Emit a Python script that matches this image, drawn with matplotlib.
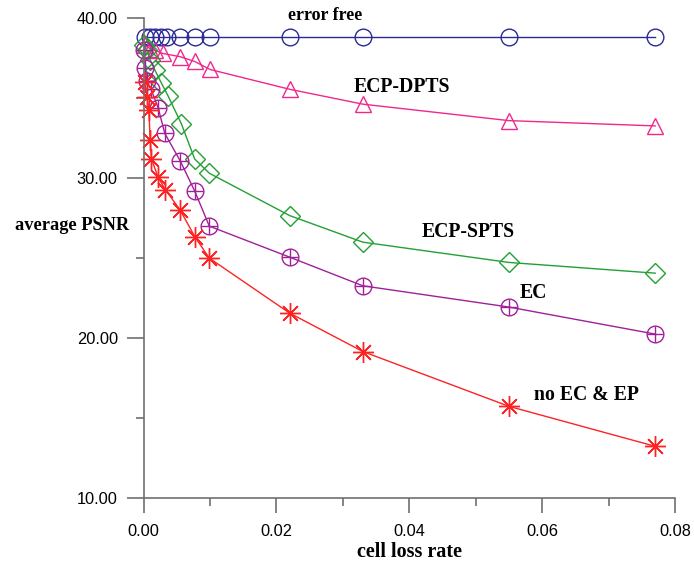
import numpy as np
import matplotlib
matplotlib.use("Agg")
import matplotlib.pyplot as plt
from matplotlib.ticker import MultipleLocator, FormatStrFormatter

# cell loss rate / average PSNR
x_free = [0.0002, 0.001, 0.0017, 0.0026, 0.0035, 0.0055, 0.0077, 0.01, 0.022, 0.033, 0.055, 0.077]
y_free = [38.8, 38.8, 38.8, 38.8, 38.8, 38.8, 38.8, 38.8, 38.8, 38.8, 38.8, 38.8]

x_dpts = [0.0002, 0.001, 0.0017, 0.0029, 0.0055, 0.0077, 0.01, 0.022, 0.033, 0.055, 0.077]
y_dpts = [38.3, 38.1, 38.0, 37.8, 37.6, 37.3, 36.8, 35.56, 34.63, 33.6, 33.27]

x_spts = [0.0001, 0.0005, 0.001, 0.0017, 0.0027, 0.0037, 0.0057, 0.0077, 0.0099, 0.022, 0.033, 0.055, 0.077]
y_spts = [38.3, 38.0, 37.4, 36.77, 35.94, 35.14, 33.4, 31.2, 30.31, 27.66, 26.0, 24.73, 24.06]

x_ec = [0.0, 0.0002, 0.0005, 0.0011, 0.0022, 0.0032, 0.0055, 0.0077, 0.0099, 0.022, 0.033, 0.055, 0.077]
y_ec = [38.0, 36.9, 36.1, 35.6, 34.4, 32.8, 31.1, 29.2, 27.0, 25.06, 23.27, 21.94, 20.25]

x_noec = [0.0002, 0.0005, 0.0008, 0.001, 0.0012, 0.0022, 0.0033, 0.0055, 0.0077, 0.0099, 0.022, 0.033, 0.055, 0.077]
y_noec = [36.04, 35.1, 34.27, 32.4, 31.2, 30.05, 29.27, 28.02, 26.35, 25.0, 21.56, 19.16, 15.73, 13.23]

labels = ["error free", "ECP-DPTS", "ECP-SPTS", "EC", "no EC & EP"]

c_free = "#2a2a96"
c_dpts = "#f0288c"
c_spts = "#23a033"
c_ec = "#a0209a"
c_noec = "#ff2222"

fig = plt.figure(figsize=(6.94, 5.63), dpi=100)
ax = fig.add_axes([0.2068, 0.1155, 0.766, 0.852])

kw = dict(lw=1.0, mfc="none", mew=1.0, clip_on=False)
ax.plot(x_free, y_free, color=c_free, marker="o", ms=12, **kw)
ax.plot(x_dpts, y_dpts, color=c_dpts, marker="^", ms=11, **kw)
ax.plot(x_spts, y_spts, color=c_spts, marker="D", ms=10, **kw)
ax.plot(x_ec, y_ec, color=c_ec, marker="o", ms=12, **kw)
ax.plot(x_ec, y_ec, color=c_ec, marker="+", ms=12, lw=0, mew=1.0, clip_on=False)
ax.plot(x_noec, y_noec, color=c_noec, marker=(8, 2, 0), ms=15, **kw)

tfont = dict(family="Liberation Serif", weight="bold", color="black", ha="center", va="center")
ax.text(0.0273, 40.2, labels[0], size=13, **tfont)
ax.text(0.0389, 35.7, labels[1], size=14.2, **tfont)
ax.text(0.0488, 26.64, labels[2], size=14.2, **tfont)
ax.text(0.0586, 22.85, labels[3], size=14.2, **tfont)
ax.text(0.0667, 16.45, labels[4], size=14.2, **tfont)

ax.set_xlim(0, 0.08)
ax.set_ylim(10, 40)
ax.xaxis.set_major_locator(MultipleLocator(0.02))
ax.xaxis.set_minor_locator(MultipleLocator(0.01))
ax.yaxis.set_major_locator(MultipleLocator(10))
ax.yaxis.set_minor_locator(MultipleLocator(5))
ax.xaxis.set_major_formatter(FormatStrFormatter("%.2f"))
ax.yaxis.set_major_formatter(FormatStrFormatter("%.2f"))

for s in ["top", "right"]:
    ax.spines[s].set_visible(False)
for s in ["left", "bottom"]:
    ax.spines[s].set_color("#707070")
    ax.spines[s].set_linewidth(1.2)

ax.tick_params(which="major", width=1.2, color="#707070", direction="out",
               labelsize=11.8, labelfontfamily="Liberation Sans")
ax.tick_params(which="minor", length=6, width=1.2, color="#707070", direction="out")
ax.tick_params(axis="y", which="major", length=12, pad=6.5)
ax.tick_params(axis="x", which="major", length=11, pad=8)

ax.set_xlabel("cell loss rate", fontfamily="Liberation Serif", fontweight="bold", fontsize=14.5)
ax.xaxis.set_label_coords(0.5, -0.1126)
ax.xaxis.label.set_va("center")
ax.text(-0.0107, 27.05, "average PSNR", size=13.2, **tfont)

fig.savefig("out.png", dpi=100)
